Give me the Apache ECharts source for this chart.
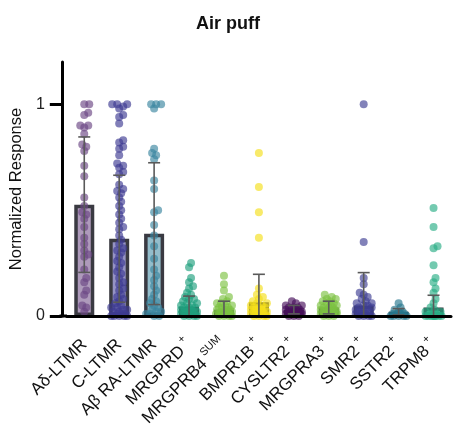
<!DOCTYPE html>
<html>
<head>
<meta charset="utf-8">
<script src="https://cdn.jsdelivr.net/npm/echarts@6/dist/echarts.min.js"></script>
<style>
  html, body { margin: 0; padding: 0; background: #fff; }
  #chart { width: 456px; height: 432px; }
</style>
</head>
<body>
<div id="chart"></div>
<script>
// Neuron classes and their superscript tags
const categories = ['Aδ-LTMR', 'C-LTMR', 'Aβ RA-LTMR', 'MRGPRD', 'MRGPRB4', 'BMPR1B', 'CYSLTR2', 'MRGPRA3', 'SMR2', 'SSTR2', 'TRPM8'];
const superscripts = ['', '', '', '+', 'SUM', '+', '+', '+', '+', '+', '+'];

// Mean and SD of the normalized response per class
const means = [0.526, 0.365, 0.389, 0.044, 0.03, 0.065, 0.03, 0.04, 0.05, 0.02, 0.04];
const sds = [0.32, 0.30, 0.335, 0.05, 0.04, 0.132, 0.02, 0.03, 0.155, 0.015, 0.058];

const colors = ['#6b4784', '#3e3b92', '#3a86a0', '#21a07e', '#7cc142', '#f5df1a', '#46105a', '#7cc142', '#3f3f94', '#26778e', '#2aad86'];

// Individual cell responses
const cellsAdelta = [1.0, 1.0, 0.96, 0.95, 0.9, 0.9, 0.89, 0.86, 0.81, 0.8, 0.78, 0.71, 0.66, 0.56, 0.52, 0.49, 0.48, 0.46, 0.42, 0.37, 0.34, 0.31, 0.29, 0.28, 0.22, 0.18, 0.16, 0.12, 0.1, 0.05, 0.04, 0.02];
const cellsCLTMR = [1.0, 1.0, 1.0, 0.99, 0.98, 0.95, 0.94, 0.91, 0.83, 0.82, 0.8, 0.79, 0.76, 0.72, 0.71, 0.7, 0.68, 0.67, 0.62, 0.6, 0.59, 0.58, 0.56, 0.54, 0.52, 0.5, 0.48, 0.46, 0.44, 0.42, 0.41, 0.38, 0.36, 0.34, 0.32, 0.31, 0.3, 0.28, 0.26, 0.25, 0.23, 0.21, 0.2, 0.18, 0.16, 0.15, 0.13, 0.12, 0.1, 0.09, 0.08, 0.07, 0.06, 0.05, 0.04, 0.04, 0.03, 0.03, 0.02, 0.02, 0.01, 0.01, 0.01, 0, 0, 0, 0, 0];
const cellsAbetaRA = [1.0, 1.0, 1.0, 0.98, 0.79, 0.77, 0.76, 0.74, 0.64, 0.6, 0.5, 0.49, 0.43, 0.38, 0.33, 0.27, 0.22, 0.19, 0.17, 0.14, 0.12, 0.1, 0.08, 0.07, 0.06, 0.05, 0.04, 0.03, 0.02, 0.02, 0.01, 0.01, 0, 0];
const cellsMRGPRD = [0.25, 0.23, 0.18, 0.16, 0.14, 0.13, 0.11, 0.1, 0.09, 0.08, 0.08, 0.07, 0.06, 0.06, 0.05, 0.05, 0.04, 0.04, 0.04, 0.03, 0.03, 0.03, 0.02, 0.02, 0.02, 0.02, 0.01, 0.01, 0.01, 0.01, 0, 0, 0, 0];
const cellsMRGPRB4 = [0.19, 0.15, 0.12, 0.09, 0.08, 0.07, 0.06, 0.06, 0.05, 0.05, 0.04, 0.04, 0.04, 0.03, 0.03, 0.03, 0.02, 0.02, 0.02, 0.02, 0.01, 0.01, 0.01, 0.01, 0.01, 0, 0, 0, 0];
const cellsBMPR1B = [0.77, 0.61, 0.49, 0.37, 0.13, 0.1, 0.09, 0.08, 0.07, 0.06, 0.06, 0.05, 0.05, 0.04, 0.04, 0.04, 0.03, 0.03, 0.03, 0.02, 0.02, 0.02, 0.02, 0.01, 0.01, 0.01, 0.01, 0, 0, 0, 0];
const cellsCYSLTR2 = [0.07, 0.06, 0.05, 0.05, 0.04, 0.04, 0.04, 0.03, 0.03, 0.03, 0.03, 0.02, 0.02, 0.02, 0.02, 0.01, 0.01, 0.01, 0.01, 0, 0, 0];
const cellsMRGPRA3 = [0.1, 0.09, 0.08, 0.08, 0.07, 0.07, 0.06, 0.06, 0.05, 0.05, 0.05, 0.04, 0.04, 0.04, 0.03, 0.03, 0.03, 0.03, 0.02, 0.02, 0.02, 0.02, 0.01, 0.01, 0.01, 0.01, 0, 0, 0];
const cellsSMR2 = [1.0, 0.35, 0.18, 0.15, 0.11, 0.1, 0.09, 0.08, 0.07, 0.06, 0.06, 0.05, 0.05, 0.04, 0.04, 0.03, 0.03, 0.03, 0.02, 0.02, 0.02, 0.01, 0.01, 0.01, 0, 0, 0, 0];
const cellsSSTR2 = [0.06, 0.04, 0.03, 0.02, 0.02, 0.01, 0.01, 0.01, 0.01, 0, 0, 0, 0, 0];
const cellsTRPM8 = [0.51, 0.42, 0.33, 0.32, 0.24, 0.18, 0.16, 0.13, 0.11, 0.08, 0.06, 0.04, 0.03, 0.02, 0.02, 0.01, 0.01, 0.01, 0, 0, 0, 0, 0, 0, 0, 0];

const cells = [cellsAdelta, cellsCLTMR, cellsAbetaRA, cellsMRGPRD, cellsMRGPRB4, cellsBMPR1B, cellsCYSLTR2, cellsMRGPRA3, cellsSMR2, cellsSSTR2, cellsTRPM8];

const W = 456, H = 432;
const GRID = { left: 66, right: 5, top: 62, bottom: 116 };
const Y_MAX = 1.2;
const plotW = W - GRID.left - GRID.right;
const plotH = H - GRID.top - GRID.bottom;
const bandPx = plotW / categories.length;
const yPxPerUnit = plotH / Y_MAX;

// Simple beeswarm: place each dot at the smallest horizontal offset that keeps it apart from already placed dots
function swarm(values, catIndex) {
  const minD = 4.5, step = 1, maxOff = 8;
  const placed = [];
  const out = [];
  const order = values.map((v, k) => k).sort((a, b) => values[a] - values[b]);
  order.forEach(k => {
    const py = values[k] * yPxPerUnit;
    const cands = [0];
    for (let o = step; o <= maxOff; o += step) { cands.push(o, -o); }
    let best = 0, bestD = -1, chosen = null;
    for (const c of cands) {
      let d = Infinity;
      for (const p of placed) { d = Math.min(d, Math.hypot(p[0] - c, p[1] - py)); }
      if (d >= minD) { chosen = c; break; }
      if (d > bestD) { bestD = d; best = c; }
    }
    if (chosen === null) chosen = best;
    placed.push([chosen, py]);
    out.push([catIndex + chosen / bandPx, values[k]]);
  });
  return out;
}

const chart = echarts.init(document.getElementById('chart'), null, { renderer: 'canvas' });

const barData = means.map((m, i) => ({
  value: m,
  itemStyle: { color: echarts.color.modifyAlpha(colors[i], 0.55) }
}));

const dotSeries = cells.map((vals, i) => ({
  type: 'scatter',
  xAxisIndex: 1,
  data: swarm(vals, i),
  symbolSize: 8,
  clip: false,
  itemStyle: { color: colors[i], opacity: 0.65 },
  z: 3,
  silent: true
}));

const errData = means.map((m, i) => [i, Math.max(0, m - sds[i]), m + sds[i]]);

const FONT = 'Liberation Sans';

const option = {
  animation: false,
  title: {
    text: 'Air puff',
    left: 'center',
    top: 10,
    textStyle: { fontFamily: FONT, fontSize: 18, fontWeight: 'bold', color: '#111' }
  },
  grid: { left: GRID.left, right: GRID.right, top: GRID.top, bottom: GRID.bottom, containLabel: false },
  xAxis: [
    {
      type: 'category',
      data: categories,
      z: 10,
      axisLine: { lineStyle: { color: '#000', width: 3 } },
      axisTick: { alignWithLabel: true, length: 12, lineStyle: { color: '#000', width: 3 } },
      axisLabel: {
        rotate: 45,
        margin: 26,
        interval: 0,
        color: '#111',
        fontFamily: FONT,
        fontSize: 17,
        formatter: (v, idx) => superscripts[idx] ? v + '{sup|' + superscripts[idx] + '}' : v,
        rich: {
          sup: { fontSize: 11, fontFamily: FONT, color: '#111', verticalAlign: 'top', padding: [0, 0, 14, 3] }
        }
      }
    },
    { type: 'value', min: -0.5, max: 10.5, show: false }
  ],
  yAxis: {
    type: 'value',
    min: 0,
    max: Y_MAX,
    interval: 1,
    offset: 5,
    z: 10,
    name: 'Normalized Response',
    nameLocation: 'middle',
    nameGap: 34,
    nameTextStyle: { fontFamily: FONT, fontSize: 16.5, color: '#111' },
    splitLine: { show: false },
    axisLine: { show: true, onZero: false, lineStyle: { color: '#000', width: 3 } },
    axisTick: { show: true, length: 12, lineStyle: { color: '#000', width: 3 } },
    axisLabel: { color: '#222', fontFamily: FONT, fontSize: 16, margin: 17, showMaxLabel: false }
  },
  graphic: [{
    type: 'line',
    z: 100,
    shape: { x1: GRID.left - 6.5, y1: H - GRID.bottom, x2: GRID.left + 1, y2: H - GRID.bottom },
    style: { stroke: '#000', lineWidth: 3 }
  }],
  series: [
    {
      type: 'bar',
      data: barData,
      barWidth: 20,
      z: 2,
      itemStyle: { borderColor: '#3a3a42', borderWidth: 3.5 },
      silent: true
    },
    ...dotSeries,
    {
      type: 'custom',
      z: 4,
      silent: true,
      data: errData,
      renderItem: (params, api) => {
        const x = api.value(0);
        const lo = api.coord([x, api.value(1)]);
        const hi = api.coord([x, api.value(2)]);
        const cap = 6;
        const st = { stroke: '#5a5a5a', lineWidth: 1.6 };
        return {
          type: 'group',
          children: [
            { type: 'line', shape: { x1: lo[0], y1: lo[1], x2: hi[0], y2: hi[1] }, style: st },
            { type: 'line', shape: { x1: hi[0] - cap, y1: hi[1], x2: hi[0] + cap, y2: hi[1] }, style: st },
            { type: 'line', shape: { x1: lo[0] - cap, y1: lo[1], x2: lo[0] + cap, y2: lo[1] }, style: st }
          ]
        };
      }
    }
  ]
};

chart.setOption(option);
</script>
</body>
</html>
